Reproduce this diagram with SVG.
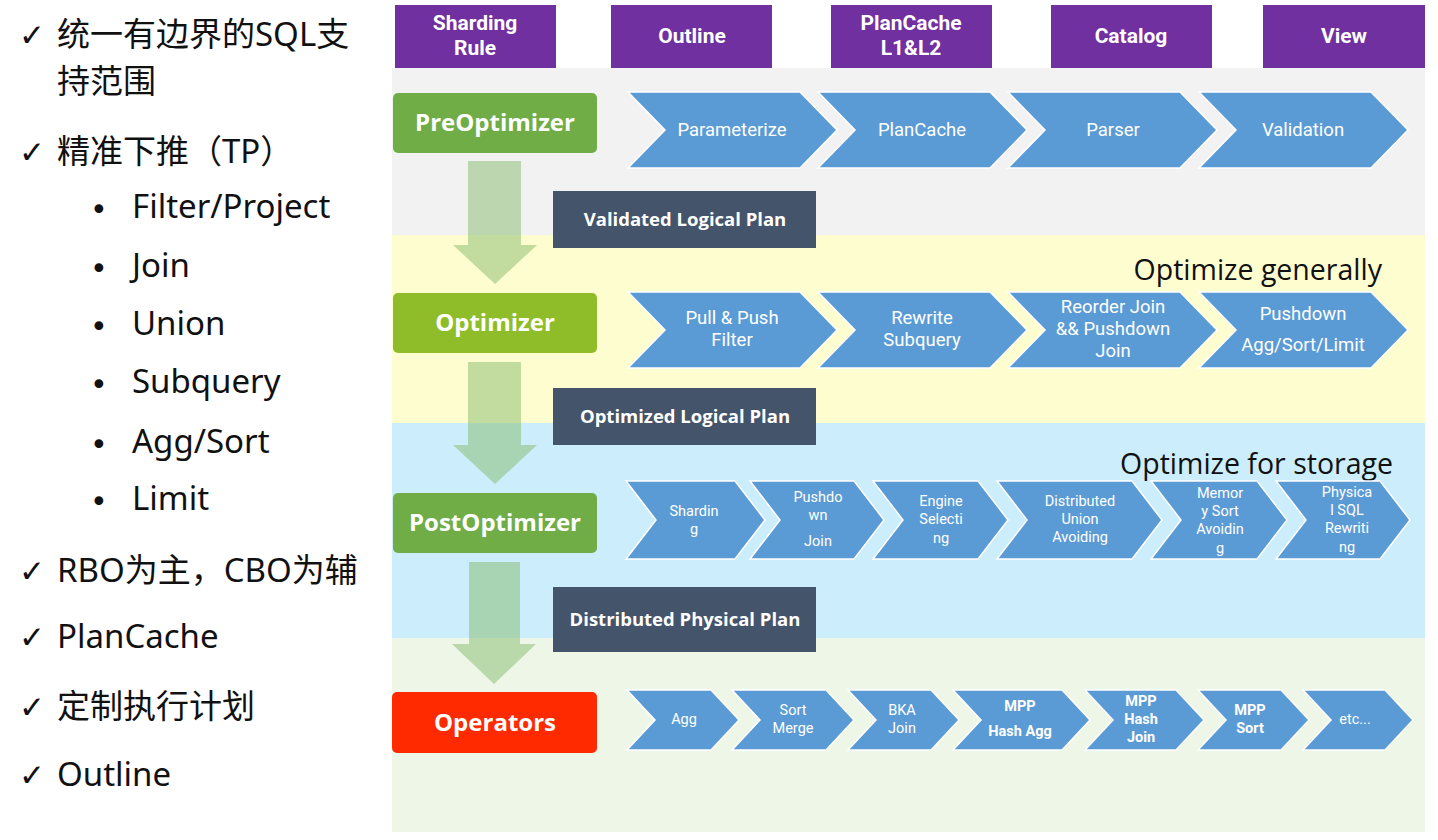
<svg xmlns="http://www.w3.org/2000/svg" width="1438" height="840" viewBox="0 0 1438 840">
<style>
.lt{font-family:"Noto Sans","Noto Sans CJK SC",sans-serif;font-size:33px;fill:#111}
.ck{font-family:"DejaVu Sans",sans-serif;font-size:31px;fill:#111}
.bu{font-family:"DejaVu Sans",sans-serif;font-size:30px;fill:#111}
.hd{fill:#7030a0}
.ht{font-family:Roboto,"Noto Sans",sans-serif;font-weight:bold;font-size:21px;fill:#fff;text-anchor:middle}
.nt{font-family:"Open Sans","Noto Sans",sans-serif;font-weight:bold;font-size:24px;fill:#fff;text-anchor:middle}
.pl{fill:#44546a}
.pt{font-family:"Open Sans","Noto Sans",sans-serif;font-weight:bold;font-size:18.5px;fill:#fff;text-anchor:middle}
.cv{fill:#5b9bd5;stroke:#fff;stroke-width:1.5;stroke-linejoin:miter}
.ct{font-family:Roboto,"Noto Sans",sans-serif;font-size:18.5px;fill:#fff;text-anchor:middle}
.cs{font-family:Roboto,"Noto Sans",sans-serif;font-size:14.5px;fill:#fff;text-anchor:middle}
.cb{font-weight:bold}
.big{font-family:"Open Sans","Noto Sans",sans-serif;font-size:28.5px;fill:#111;text-anchor:end}
.ar{fill:#86bc6e;opacity:0.5}
</style>
<rect x="0" y="0" width="1438" height="840" fill="#fff"/>

<!-- Left text -->
<g id="left-list">
<text class="ck" x="19" y="46">✓</text>
<text class="lt" x="57" y="46">统一有边界的SQL支</text>
<text class="lt" x="57" y="93">持范围</text>
<text class="ck" x="19" y="163">✓</text>
<text class="lt" x="57" y="163">精准下推（TP）</text>
<text class="bu" x="90" y="220">•</text><text class="lt" x="132" y="218">Filter/Project</text>
<text class="bu" x="90" y="279">•</text><text class="lt" x="132" y="277">Join</text>
<text class="bu" x="90" y="337">•</text><text class="lt" x="132" y="335">Union</text>
<text class="bu" x="90" y="395">•</text><text class="lt" x="132" y="393">Subquery</text>
<text class="bu" x="90" y="455">•</text><text class="lt" x="132" y="453">Agg/Sort</text>
<text class="bu" x="90" y="512">•</text><text class="lt" x="132" y="510">Limit</text>
<text class="ck" x="19" y="582">✓</text>
<text class="lt" x="57" y="582">RBO为主，CBO为辅</text>
<text class="ck" x="19" y="648">✓</text>
<text class="lt" x="57" y="648">PlanCache</text>
<text class="ck" x="19" y="718">✓</text>
<text class="lt" x="57" y="718">定制执行计划</text>
<text class="ck" x="19" y="786">✓</text>
<text class="lt" x="57" y="786">Outline</text>
</g>

<!-- Background bands -->
<g id="bands">
<rect x="392" y="68" width="1033" height="167" fill="#f2f2f2"/>
<rect x="392" y="235" width="1033" height="188" fill="#fefdd0"/>
<rect x="392" y="423" width="1033" height="215" fill="#ccedfb"/>
<rect x="392" y="638" width="1033" height="194" fill="#eef6e8"/>
<text class="big" x="1382" y="280">Optimize generally</text>
<text class="big" x="1393" y="474">Optimize for storage</text>
</g>

<!-- Header boxes -->
<g id="h-sharding"><rect class="hd" x="395" y="5" width="161" height="63"/><text class="ht" x="475" y="30">Sharding</text><text class="ht" x="475" y="55">Rule</text></g>
<g id="h-outline"><rect class="hd" x="611" y="5" width="161" height="63"/><text class="ht" x="692" y="43">Outline</text></g>
<g id="h-plancache"><rect class="hd" x="831" y="5" width="161" height="63"/><text class="ht" x="911" y="30">PlanCache</text><text class="ht" x="911" y="55">L1&amp;L2</text></g>
<g id="h-catalog"><rect class="hd" x="1051" y="5" width="161" height="63"/><text class="ht" x="1131" y="43">Catalog</text></g>
<g id="h-view"><rect class="hd" x="1263" y="5" width="162" height="63"/><text class="ht" x="1344" y="43">View</text></g>

<!-- Connectors: block arrows -->
<g id="connectors">
<path class="ar" d="M468,161 H521 V245 H537 L495,284 L453,245 H468 Z"/>
<path class="ar" d="M468,362 H521 V445 H537 L495,484 L453,445 H468 Z"/>
<path class="ar" d="M469,562 H520 V644 H536 L494,684 L452,644 H469 Z"/>
</g>

<!-- Stage nodes -->
<g id="n-preoptimizer"><rect x="393" y="93" width="204" height="60" rx="5" fill="#70ad47"/><text class="nt" x="495" y="131">PreOptimizer</text></g>
<g id="n-optimizer"><rect x="393" y="293" width="204" height="60" rx="5" fill="#8fbd2a"/><text class="nt" x="495" y="331">Optimizer</text></g>
<g id="n-postoptimizer"><rect x="393" y="493" width="204" height="60" rx="5" fill="#70ad47"/><text class="nt" x="495" y="531">PostOptimizer</text></g>
<g id="n-operators"><rect x="392" y="692" width="205" height="61" rx="5" fill="#ff2a00"/><text class="nt" x="495" y="731">Operators</text></g>

<!-- Plan boxes -->
<g id="p-validated"><rect class="pl" x="553" y="191" width="263" height="57"/><text class="pt" x="685" y="226">Validated Logical Plan</text></g>
<g id="p-optimized"><rect class="pl" x="553" y="388" width="263" height="57"/><text class="pt" x="685" y="423">Optimized Logical Plan</text></g>
<g id="p-distributed"><rect class="pl" x="553" y="587" width="263" height="65"/><text class="pt" x="685" y="626">Distributed Physical Plan</text></g>

<!-- Row 1 -->
<g id="c-parameterize"><path class="cv" d="M628,92 H800 L837,130 L800,168 H628 L665,130 Z"/><text class="ct" x="732" y="136">Parameterize</text></g>
<g id="c-plancache"><path class="cv" d="M818,92 H990 L1027,130 L990,168 H818 L855,130 Z"/><text class="ct" x="922" y="136">PlanCache</text></g>
<g id="c-parser"><path class="cv" d="M1008,92 H1180 L1217,130 L1180,168 H1008 L1045,130 Z"/><text class="ct" x="1113" y="136">Parser</text></g>
<g id="c-validation"><path class="cv" d="M1199,92 H1371 L1408,130 L1371,168 H1199 L1236,130 Z"/><text class="ct" x="1303" y="136">Validation</text></g>

<!-- Row 2 -->
<g id="c-pullpush"><path class="cv" d="M628,292 H800 L837,330 L800,368 H628 L665,330 Z"/><text class="ct" x="732" y="324">Pull &amp; Push</text><text class="ct" x="732" y="346">Filter</text></g>
<g id="c-rewrite"><path class="cv" d="M818,292 H990 L1027,330 L990,368 H818 L855,330 Z"/><text class="ct" x="922" y="324">Rewrite</text><text class="ct" x="922" y="346">Subquery</text></g>
<g id="c-reorder"><path class="cv" d="M1008,292 H1180 L1217,330 L1180,368 H1008 L1045,330 Z"/><text class="ct" x="1113" y="313">Reorder Join</text><text class="ct" x="1113" y="335">&amp;&amp; Pushdown</text><text class="ct" x="1113" y="357">Join</text></g>
<g id="c-pushdown"><path class="cv" d="M1199,292 H1371 L1408,330 L1371,368 H1199 L1236,330 Z"/><text class="ct" x="1303" y="320">Pushdown</text><text class="ct" x="1303" y="351">Agg/Sort/Limit</text></g>

<!-- Row 3 -->
<g id="c-sharding"><path class="cv" d="M626,481 H735 L765,520 L735,559 H626 L656,520 Z"/><text class="cs" x="694" y="516">Shardin</text><text class="cs" x="694" y="534">g</text></g>
<g id="c-pushdownjoin"><path class="cv" d="M750,481 H854 L884,520 L854,559 H750 L780,520 Z"/><text class="cs" x="818" y="502">Pushdo</text><text class="cs" x="818" y="520">wn</text><text class="cs" x="818" y="546">Join</text></g>
<g id="c-engine"><path class="cv" d="M873,481 H978 L1008,520 L978,559 H873 L903,520 Z"/><text class="cs" x="941" y="506">Engine</text><text class="cs" x="941" y="524">Selecti</text><text class="cs" x="941" y="543">ng</text></g>
<g id="c-union"><path class="cv" d="M997,481 H1132 L1162,520 L1132,559 H997 L1027,520 Z"/><text class="cs" x="1080" y="506">Distributed</text><text class="cs" x="1080" y="524">Union</text><text class="cs" x="1080" y="542">Avoiding</text></g>
<g id="c-memsort"><path class="cv" d="M1151,481 H1257 L1287,520 L1257,559 H1151 L1181,520 Z"/><text class="cs" x="1220" y="498">Memor</text><text class="cs" x="1220" y="516">y Sort</text><text class="cs" x="1220" y="534">Avoidin</text><text class="cs" x="1220" y="553">g</text></g>
<g id="c-physical"><path class="cv" d="M1276,481 H1380 L1410,520 L1380,559 H1276 L1306,520 Z"/><text class="cs" x="1347" y="497">Physica</text><text class="cs" x="1347" y="515">l SQL</text><text class="cs" x="1347" y="533">Rewriti</text><text class="cs" x="1347" y="552">ng</text></g>

<!-- Row 4 -->
<g id="c-agg"><path class="cv" d="M627,690 H711 L739,720 L711,750 H627 L655,720 Z"/><text class="cs" x="684" y="724">Agg</text></g>
<g id="c-sortmerge"><path class="cv" d="M732,690 H826 L854,720 L826,750 H732 L760,720 Z"/><text class="cs" x="793" y="715">Sort</text><text class="cs" x="793" y="733">Merge</text></g>
<g id="c-bka"><path class="cv" d="M848,690 H931 L959,720 L931,750 H848 L876,720 Z"/><text class="cs" x="902" y="715">BKA</text><text class="cs" x="902" y="733">Join</text></g>
<g id="c-mpphashagg"><path class="cv" d="M953,690 H1062 L1090,720 L1062,750 H953 L981,720 Z"/><text class="cs cb" x="1020" y="711">MPP</text><text class="cs cb" x="1020" y="736">Hash Agg</text></g>
<g id="c-mpphashjoin"><path class="cv" d="M1085,690 H1176 L1204,720 L1176,750 H1085 L1113,720 Z"/><text class="cs cb" x="1141" y="706">MPP</text><text class="cs cb" x="1141" y="724">Hash</text><text class="cs cb" x="1141" y="742">Join</text></g>
<g id="c-mppsort"><path class="cv" d="M1198,690 H1281 L1309,720 L1281,750 H1198 L1226,720 Z"/><text class="cs cb" x="1250" y="715">MPP</text><text class="cs cb" x="1250" y="733">Sort</text></g>
<g id="c-etc"><path class="cv" d="M1303,690 H1385 L1413,720 L1385,750 H1303 L1331,720 Z"/><text class="cs" x="1355" y="724">etc...</text></g>
</svg>
